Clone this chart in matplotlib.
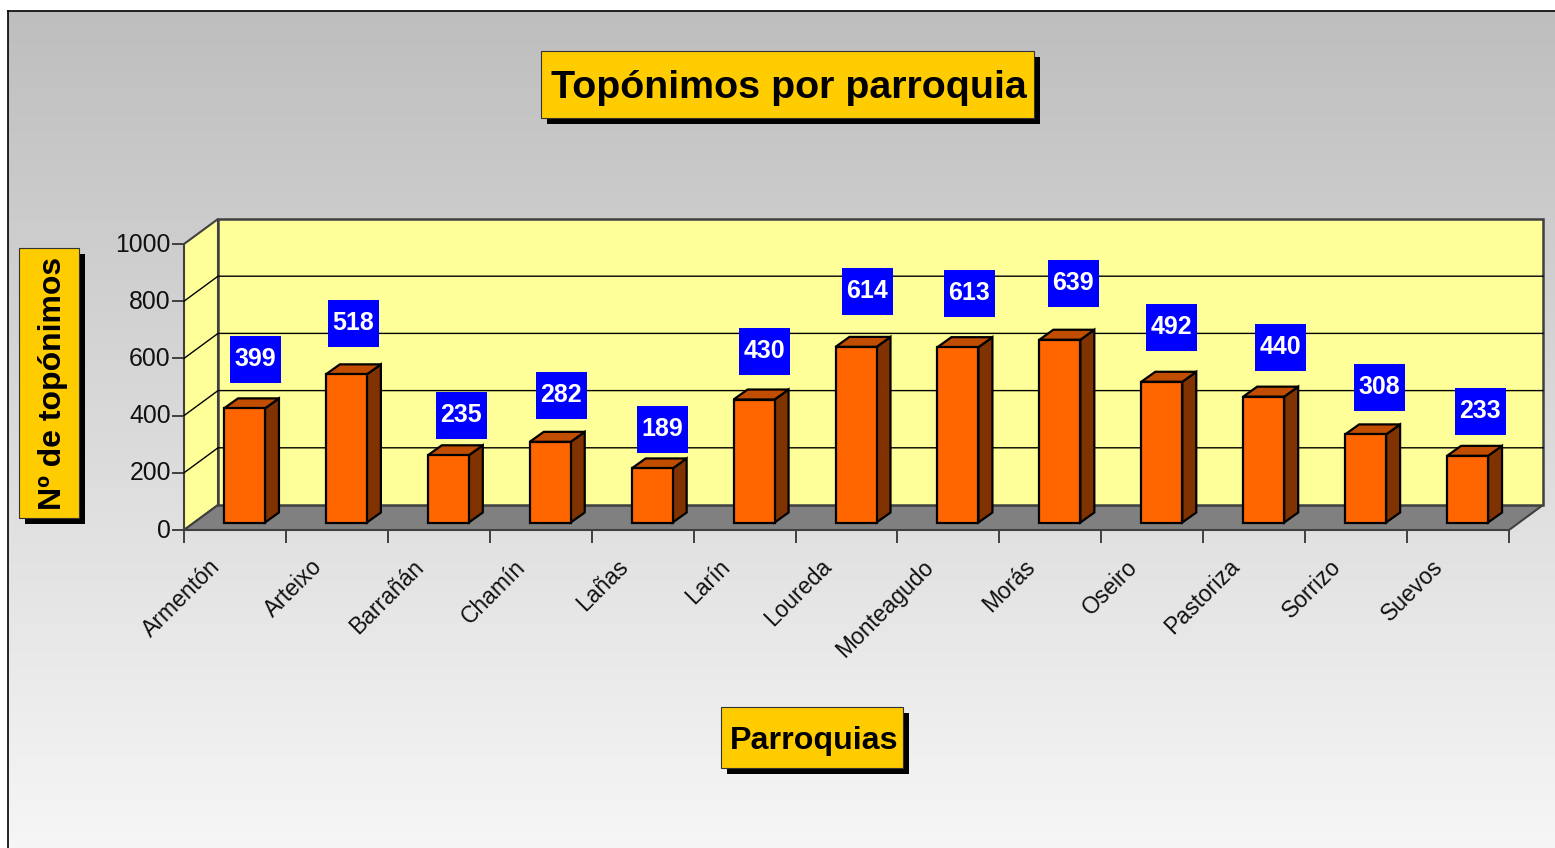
import numpy as np
import matplotlib
matplotlib.use("Agg")
import matplotlib.pyplot as plt
from matplotlib.patches import Polygon, Rectangle
from matplotlib.transforms import Affine2D

W, H = 1555, 848

parroquias = ["Armentón", "Arteixo", "Barrañán", "Chamín", "Lañas", "Larín", "Loureda",
              "Monteagudo", "Morás", "Oseiro", "Pastoriza", "Sorrizo", "Suevos"]
toponimos = [399, 518, 235, 282, 189, 430, 614, 613, 639, 492, 440, 308, 233]
y_ticks = [0, 200, 400, 600, 800, 1000]

# hand-placed value labels in the original, pixel centres
label_x = [255, 353, 461, 561, 662, 764, 867, 969, 1073, 1171, 1280, 1379, 1480]
label_y = [359, 323, 415, 395, 429, 351, 291, 293, 283, 327, 347, 387, 411]

plt.rcParams["font.family"] = ["Liberation Sans", "DejaVu Sans"]

fig = plt.figure(figsize=(W / 100, H / 100), dpi=100, facecolor="white")


def px_box(x0, y0, x1, y1):
    return [x0 / W, 1 - y1 / H, (x1 - x0) / W, (y1 - y0) / H]


# background gradient + black frame
bg = fig.add_axes(px_box(8, 11, W, H))
bg.imshow(np.linspace(0, 1, 256).reshape(-1, 1), cmap=matplotlib.colors.LinearSegmentedColormap.from_list(
    "bg", ["#bebebe", "#f6f6f6"]), aspect="auto", extent=(0, 1, 0, 1))
bg.set_xticks([])
bg.set_yticks([])
for s in ["right", "bottom"]:
    bg.spines[s].set_visible(False)
for s in ["left", "top"]:
    bg.spines[s].set_linewidth(1.2)

# front plane of the fake 3D box
ax = fig.add_axes(px_box(184, 244, 1509, 530))
ax.patch.set_visible(False)
ax.set_xlim(0, 13)
ax.set_ylim(0, 1000)
for s in ax.spines.values():
    s.set_visible(False)

px_x = 13 / 1325
px_y = 1000 / 286
dx, dy = 34 * px_x, 25 * px_y
edge = "#404040"

# side wall, floor, back wall
ax.add_patch(Polygon([(0, 0), (dx, dy), (dx, 1000 + dy), (0, 1000)], fc="#ffff99", ec=edge, lw=1.5, clip_on=False))
ax.add_patch(Polygon([(0, 0), (13, 0), (13 + dx, dy), (dx, dy)], fc="#808080", ec=edge, lw=1.5, clip_on=False))
ax.add_patch(Rectangle((dx, dy), 13, 1000, fc="#ffff99", ec=edge, lw=1.8, clip_on=False))
for t in y_ticks[1:-1]:
    ax.plot([0, dx, 13 + dx], [t, t + dy, t + dy], color="black", lw=1, clip_on=False, solid_joinstyle="miter")

# bars
centers = np.arange(len(toponimos)) + 0.5
bar_w = 41 * px_x
shift_x, base = 9.5 * px_x, 7.5 * px_y
ox, oy = 14 * px_x, 10 * px_y
for c, v in zip(centers, toponimos):
    x0 = c + shift_x - bar_w / 2
    x1 = x0 + bar_w
    top = base + v
    ax.add_patch(Polygon([(x1, base), (x1 + ox, base + oy), (x1 + ox, top + oy), (x1, top)],
                         fc="#803300", ec="black", lw=1.6, clip_on=False, zorder=3))
    ax.add_patch(Polygon([(x0, top), (x1, top), (x1 + ox, top + oy), (x0 + ox, top + oy)],
                         fc="#c04d00", ec="black", lw=1.6, clip_on=False, zorder=3))
ax.bar(centers + shift_x, toponimos, bottom=base, width=bar_w, color="#ff6600", edgecolor="black",
       linewidth=1.6, zorder=4, clip_on=False)

# axes ticks
ax.set_yticks(y_ticks)
ax.tick_params(axis="y", length=9, width=1.4, color=edge, labelsize=17.8, labelcolor="#111111", pad=0.5)
for lab in ax.get_yticklabels():
    lab.set_transform(lab.get_transform() + Affine2D().translate(0, 2))
ax.set_xticks(np.arange(14), [""] * 14)
ax.tick_params(axis="x", which="major", length=9, width=1.4, color=edge)
ax.set_xticks(centers - 0.18, parroquias, minor=True)
ax.tick_params(axis="x", which="minor", length=0, pad=24, labelsize=16.5, labelcolor="#111111")
for lab in ax.get_xticklabels(minor=True):
    lab.set_rotation(45)
    lab.set_ha("right")
    lab.set_va("center")
    lab.set_rotation_mode("anchor")


def fig_xy(px, py):
    return px / W, 1 - py / H


# value labels
for v, lx, ly in zip(toponimos, label_x, label_y):
    fig.patches.append(Rectangle((lx - 25.5, H - ly - 23.5), 51, 47, transform=None, fc="#0000ff", ec="none", zorder=5))
    fig.text(*fig_xy(lx, ly), str(v), color="white", fontsize=18, fontweight="bold",
             ha="center", va="center", zorder=6)


def title_box(x0, y0, x1, y1, text, size, rotation=0, nudge=(0, 0)):
    fig.patches.append(Rectangle((x0 + 6, H - y1 - 6), x1 - x0, y1 - y0, transform=None, fc="black", ec="none", zorder=5))
    fig.patches.append(Rectangle((x0, H - y1), x1 - x0, y1 - y0, transform=None, fc="#ffcc00", ec="#333333", lw=0.8, zorder=5))
    fig.text(*fig_xy((x0 + x1) / 2 + nudge[0], (y0 + y1) / 2 + nudge[1]), text, fontsize=size, fontweight="bold",
             color="black", ha="center", va="center", rotation=rotation, zorder=6)


title_box(541, 51, 1034, 118, "Topónimos por parroquia", 28.4, nudge=(1, 4))
title_box(19, 248, 79, 518, "Nº de topónimos", 23, rotation=90, nudge=(4, 0))
title_box(721, 707, 903, 768, "Parroquias", 23.2, nudge=(2, 3))

fig.savefig("out.png", dpi=100)
